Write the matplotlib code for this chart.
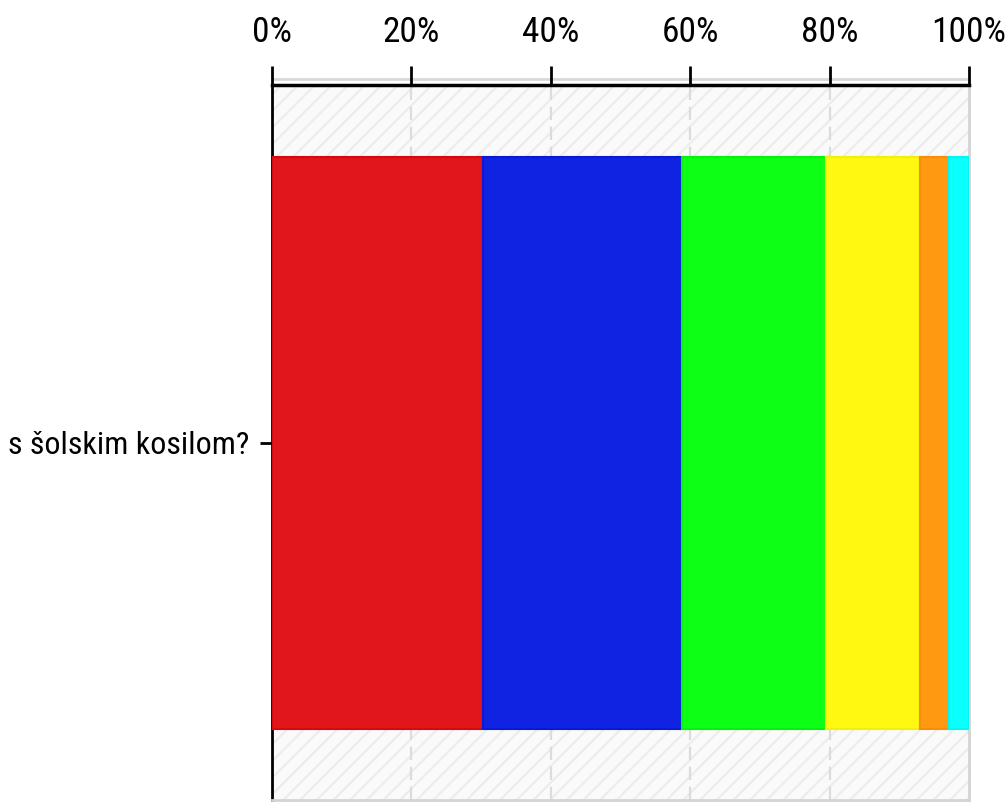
import matplotlib
matplotlib.use("Agg")
import matplotlib.pyplot as plt
from matplotlib import font_manager
from matplotlib.font_manager import FontProperties
from matplotlib.patches import Rectangle
from matplotlib.lines import Line2D
from matplotlib.transforms import ScaledTranslation

# ---- data -------------------------------------------------------------
question = ["s šolskim kosilom?"]
shares = [30.3, 28.5, 20.7, 13.4, 4.2, 2.9]          # percent of answers
colors = ["#e1161b", "#1022e2", "#0cff14", "#fff810", "#ff9912", "#0affff"]
edge_colors = ["#d50a0f", "#0a18d8", "#08f010", "#f5ee08", "#f58f0a", "#05f5f5"]
xticks = [0, 20, 40, 60, 80, 100]
xtick_labels = [f"{t}%" for t in xticks]


def narrow_font():
    """Pick the narrowest regular sans face that is installed."""
    entries = font_manager.fontManager.ttflist
    prefs = [
        ("Liberation Sans Narrow", None),
        ("Roboto Condensed", None),
        ("Open Sans Condensed", None),
        ("DejaVu Sans Condensed", None),
        ("Noto Sans", "extra-condensed"),
        ("Noto Sans", "condensed"),
        ("Open Sans", "condensed"),
        ("Roboto", "condensed"),
        ("DejaVu Sans", "condensed"),
        ("Noto Sans", "semi-condensed"),
    ]

    def regular(f):
        return f.style == "normal" and str(f.weight) in ("400", "normal", "regular")

    for name, stretch in prefs:
        for f in entries:
            if f.name != name or not regular(f):
                continue
            if stretch is None or str(f.stretch) == stretch:
                return FontProperties(fname=f.fname)
    return FontProperties(family="DejaVu Sans")


fp = narrow_font()

W, H, DPI = 1008, 802, 100
fig = plt.figure(figsize=(W / DPI, H / DPI), dpi=DPI)
ax = fig.add_axes([272 / W, 2 / H, (969 - 272) / W, (800 - 85) / H])

# plot-area background: pale grey with fine diagonal hatching
plt.rcParams["hatch.linewidth"] = 1.5
ax.set_facecolor("#fafafa")
ax.add_patch(Rectangle((0, 0), 1, 1, transform=ax.transAxes, facecolor="none",
                       edgecolor="#ececec", hatch="//", linewidth=0, zorder=0))

# stacked 100% bar
left = 0.0
for val, c, ec in zip(shares, colors, edge_colors):
    ax.barh(0, val, left=left, height=0.8, color=c, edgecolor=ec,
            linewidth=1.5, zorder=3)
    left += val

ax.set_xlim(0, 100)
ax.set_ylim(-0.5, 0.5)

# vertical dashed grid
for t in xticks[1:-1]:
    ax.axvline(t, color="#dcdcdc", linewidth=1.6, linestyle=(0, (6, 3)), zorder=1)

# axis styling
ax.xaxis.tick_top()
ax.set_xticks(xticks)
ax.set_xticklabels(xtick_labels, fontproperties=fp, fontsize=25.5)
ax.tick_params(axis="x", direction="out", length=14, width=2, color="black",
               pad=12)
ax.set_yticks([0])
ax.set_yticklabels(question, fontproperties=fp, fontsize=23)
ax.tick_params(axis="y", direction="out", length=9, width=2, color="black",
               pad=7)

for side in ("right", "bottom"):
    ax.spines[side].set_color("#d4d4d4")
    ax.spines[side].set_linewidth(2)
ax.spines["top"].set_color("black")
ax.spines["top"].set_linewidth(2.5)
ax.spines["left"].set_color("black")
ax.spines["left"].set_linewidth(2)

# light grey rule just above the top axis line
off = ScaledTranslation(0, 4 / 72, fig.dpi_scale_trans)
ax.add_line(Line2D([0, 1], [1, 1], transform=ax.transAxes + off,
                   color="#d8d8d8", linewidth=2, clip_on=False, zorder=0))

fig.savefig("out.png", dpi=DPI)
